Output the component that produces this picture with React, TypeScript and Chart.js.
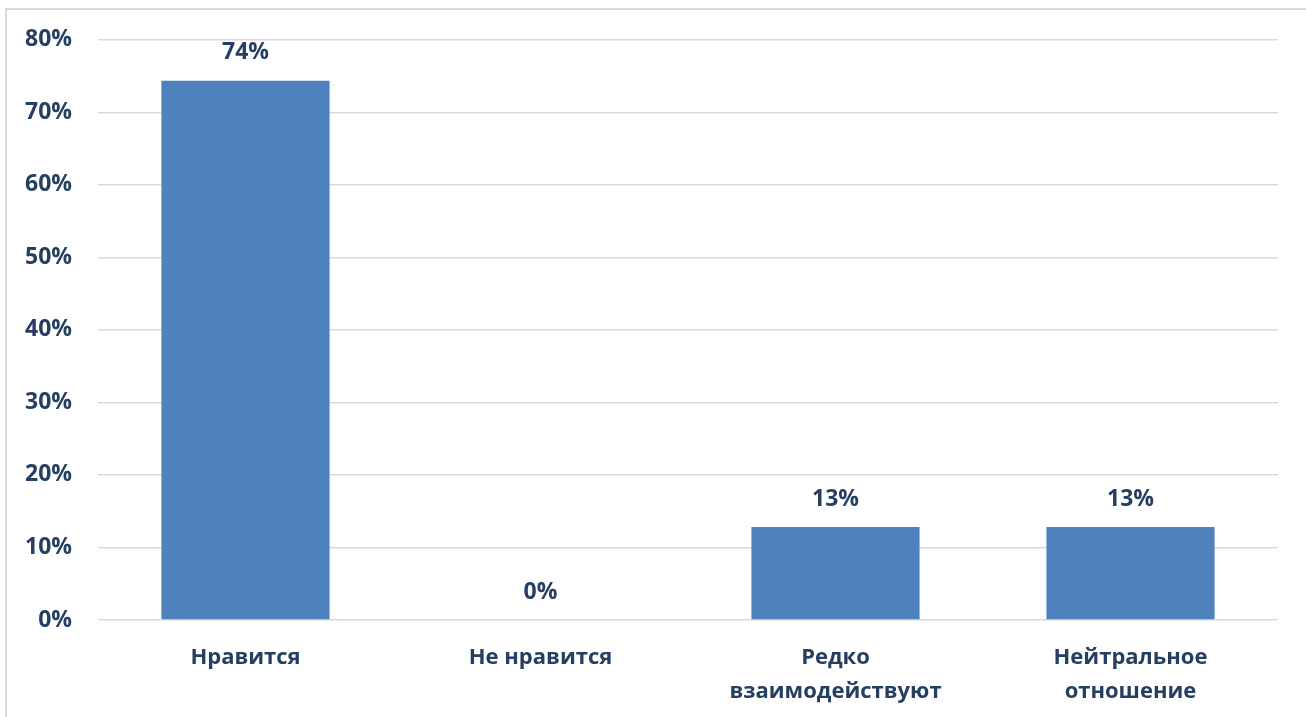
import React, { useEffect, useRef } from "react";
import { Chart, registerables } from "chart.js";

Chart.register(...registerables);

const categories: (string | string[])[] = [
  "Нравится",
  "Не нравится",
  ["Редко", "взаимодействуют"],
  ["Нейтральное", "отношение"],
];
const values: number[] = [74.36, 0, 12.82, 12.82];
const valueLabels: string[] = ["74%", "0%", "13%", "13%"];
const yTickValues: number[] = [0, 10, 20, 30, 40, 50, 60, 70, 80];

const TEXT = "#243F60";
const FONT = "'Open Sans', 'Noto Sans', sans-serif";

const W = 1306;
const H = 717;

export default function App() {
  const ref = useRef<HTMLCanvasElement | null>(null);

  useEffect(() => {
    document.body.style.margin = "0";
    document.body.style.overflow = "hidden";
    if (!ref.current) return;

    const labelPlugin = {
      id: "valueLabels",
      afterDatasetsDraw(chart: any) {
        const ctx = chart.ctx;
        const meta = chart.getDatasetMeta(0);
        ctx.save();
        ctx.font = `bold 23px ${FONT}`;
        ctx.fillStyle = TEXT;
        ctx.textAlign = "center";
        ctx.textBaseline = "middle";
        meta.data.forEach((el: any, i: number) => {
          ctx.fillText(valueLabels[i], el.x, el.y - 28);
        });
        ctx.restore();
      },
    };

    const chart = new Chart(ref.current, {
      type: "bar",
      data: {
        labels: categories,
        datasets: [
          {
            data: values,
            backgroundColor: "#4F81BD",
            barPercentage: 0.57,
            categoryPercentage: 1,
          },
        ],
      },
      options: {
        responsive: false,
        animation: false,
        layout: { padding: { left: 0, top: 39, right: 28, bottom: 0 } },
        plugins: {
          legend: { display: false },
          tooltip: { enabled: false },
        },
        scales: {
          x: {
            grid: { display: false, drawTicks: false },
            border: { display: false },
            ticks: {
              color: TEXT,
              font: { family: FONT, size: 22, weight: "bold", lineHeight: 1.55 },
              padding: 21,
              maxRotation: 0,
              autoSkip: false,
            },
            afterFit: (s: any) => {
              s.height = 97;
            },
          },
          y: {
            min: 0,
            max: 80,
            afterBuildTicks: (s: any) => {
              s.ticks = yTickValues.map((v) => ({ value: v }));
            },
            grid: { color: "#D9D9D9", lineWidth: 1.5, drawTicks: false },
            border: { display: false },
            ticks: {
              color: TEXT,
              font: { family: FONT, size: 23, weight: "bold" },
              padding: 26,
              callback: (v: any) => `${v}%`,
            },
            afterFit: (s: any) => {
              s.width = 98;
            },
          },
        },
      },
      plugins: [labelPlugin],
    });

    return () => chart.destroy();
  }, []);

  return (
    <div style={{ position: "relative", width: W, height: H, overflow: "hidden", background: "#fff" }}>
      <div
        style={{
          position: "absolute",
          left: 5,
          top: 8,
          width: W + 20,
          height: H + 20,
          border: "2px solid #D9D9D9",
          boxSizing: "border-box",
        }}
      />
      <canvas ref={ref} width={W} height={H} style={{ position: "absolute", left: 0, top: 0 }} />
    </div>
  );
}
